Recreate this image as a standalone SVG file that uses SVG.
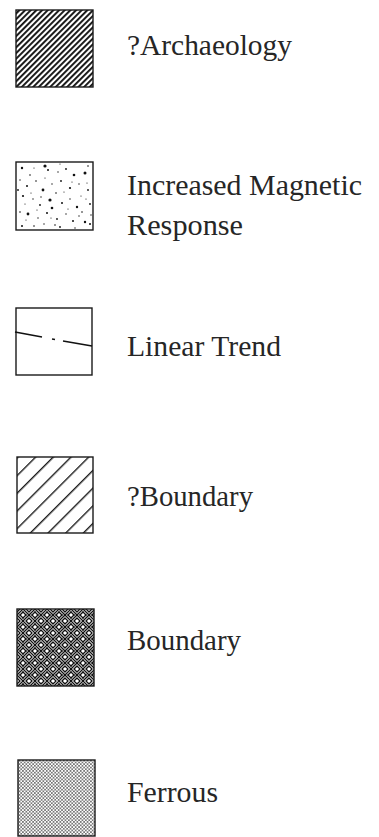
<svg xmlns="http://www.w3.org/2000/svg" width="379" height="837" viewBox="0 0 379 837">
<style>
.box{stroke:#1a1a1a;stroke-width:1.4}
.lbl{font-family:"Liberation Serif","Times New Roman",serif;font-size:29px;fill:#262626}
.dots circle{fill:#111}
</style>
<defs>
<pattern id="denseHatch" width="4" height="4" patternUnits="userSpaceOnUse" patternTransform="rotate(-45)">
<rect width="4" height="4" fill="#fff"/>
<rect width="4" height="1.9" fill="#111"/>
</pattern>
<pattern id="wideHatch" width="12.5" height="12.5" patternUnits="userSpaceOnUse" patternTransform="translate(17 457) rotate(-45)">
<line x1="0" y1="0.7" x2="12.5" y2="0.7" stroke="#1a1a1a" stroke-width="1.4"/>
</pattern>
<pattern id="weave" width="12" height="12" patternUnits="userSpaceOnUse" patternTransform="translate(17 609)">
<rect width="12" height="12" fill="#fff"/>
<g stroke="#111" stroke-width="1.3" stroke-linecap="square">
<line x1="0" y1="6" x2="6" y2="0"/><line x1="0" y1="3" x2="3" y2="0"/><line x1="3" y1="6" x2="6" y2="3"/>
<line x1="6" y1="0" x2="12" y2="6"/><line x1="9" y1="0" x2="12" y2="3"/><line x1="6" y1="3" x2="9" y2="6"/>
<line x1="0" y1="6" x2="6" y2="12"/><line x1="3" y1="6" x2="6" y2="9"/><line x1="0" y1="9" x2="3" y2="12"/>
<line x1="6" y1="12" x2="12" y2="6"/><line x1="6" y1="9" x2="9" y2="6"/><line x1="9" y1="12" x2="12" y2="9"/>
</g>
</pattern>
<pattern id="stipple" width="3.4" height="3.4" patternUnits="userSpaceOnUse">
<rect width="3.4" height="3.4" fill="#fff"/>
<circle cx="0.85" cy="0.85" r="0.75" fill="#333"/>
<circle cx="2.55" cy="2.55" r="0.75" fill="#333"/>
</pattern>
</defs>

<g id="archaeology">
<rect class="box" x="16" y="10" width="77" height="77" fill="url(#denseHatch)"/>
<text class="lbl" x="127" y="55" textLength="165" lengthAdjust="spacingAndGlyphs">?Archaeology</text>
</g>

<g id="increased-magnetic">
<rect class="box" x="16" y="162" width="77" height="68" fill="#fff"/>
<g class="dots">
<circle cx="22" cy="168" r="1.2"/><circle cx="30" cy="175" r="0.8"/><circle cx="45" cy="166" r="1.6"/><circle cx="48" cy="170" r="1"/><circle cx="58" cy="172" r="0.7"/><circle cx="66" cy="169" r="0.9"/><circle cx="74" cy="175" r="1.3"/><circle cx="85" cy="173" r="1.5"/><circle cx="88" cy="166" r="0.8"/><circle cx="20" cy="180" r="0.7"/><circle cx="27" cy="186" r="1"/><circle cx="36" cy="181" r="0.8"/><circle cx="43" cy="190" r="1.4"/><circle cx="52" cy="184" r="0.7"/><circle cx="61" cy="181" r="0.9"/><circle cx="70" cy="188" r="1.1"/><circle cx="79" cy="184" r="0.7"/><circle cx="88" cy="190" r="0.9"/><circle cx="23" cy="196" r="1.1"/><circle cx="33" cy="199" r="0.7"/><circle cx="40" cy="205" r="0.9"/><circle cx="50" cy="200" r="1.6"/><circle cx="52" cy="208" r="1.3"/><circle cx="62" cy="203" r="1"/><circle cx="70" cy="199" r="0.7"/><circle cx="77" cy="207" r="1.2"/><circle cx="82" cy="212" r="0.8"/><circle cx="90" cy="204" r="0.9"/><circle cx="20" cy="212" r="0.8"/><circle cx="28" cy="214" r="1.4"/><circle cx="38" cy="218" r="0.7"/><circle cx="47" cy="213" r="1"/><circle cx="57" cy="219" r="0.9"/><circle cx="66" cy="214" r="0.7"/><circle cx="73" cy="221" r="1"/><circle cx="85" cy="222" r="1.2"/><circle cx="22" cy="226" r="1"/><circle cx="34" cy="226" r="0.8"/><circle cx="44" cy="224" r="0.7"/><circle cx="60" cy="227" r="0.9"/><circle cx="55" cy="225" r="0.8"/><circle cx="75" cy="228" r="0.7"/><circle cx="90" cy="224" r="1"/><circle cx="31" cy="193" r="0.6"/><circle cx="64" cy="192" r="0.6"/><circle cx="81" cy="196" r="0.6"/><circle cx="25" cy="204" r="0.6"/><circle cx="45" cy="178" r="0.6"/><circle cx="68" cy="209" r="0.6"/><circle cx="87" cy="183" r="0.6"/><circle cx="56" cy="193" r="0.8"/><circle cx="37" cy="210" r="0.6"/><circle cx="79" cy="216" r="0.7"/><circle cx="18" cy="190" r="0.9"/><circle cx="91" cy="215" r="0.7"/><circle cx="60" cy="164" r="0.6"/><circle cx="34" cy="168" r="0.6"/><circle cx="72" cy="182" r="0.6"/><circle cx="41" cy="197" r="0.7"/><circle cx="86" cy="199" r="0.6"/><circle cx="26" cy="220" r="0.6"/><circle cx="51" cy="218" r="0.6"/>
</g>
<text class="lbl" x="127" y="195" textLength="235" lengthAdjust="spacingAndGlyphs">Increased Magnetic</text>
<text class="lbl" x="127" y="235" textLength="116" lengthAdjust="spacingAndGlyphs">Response</text>
</g>

<g id="linear-trend">
<rect class="box" x="16" y="308" width="76" height="67" fill="#fff"/>
<g stroke="#111" stroke-width="1.6">
<line x1="15" y1="332" x2="42" y2="337"/>
<line x1="52" y1="339" x2="55" y2="339.5"/>
<line x1="63" y1="341" x2="92" y2="346"/>
</g>
<text class="lbl" x="127" y="356" textLength="154" lengthAdjust="spacingAndGlyphs">Linear Trend</text>
</g>

<g id="possible-boundary">
<rect class="box" x="17" y="457" width="76" height="76" fill="url(#wideHatch)"/>
<text class="lbl" x="127" y="506" textLength="126" lengthAdjust="spacingAndGlyphs">?Boundary</text>
</g>

<g id="boundary">
<rect class="box" x="17" y="609" width="77" height="77" fill="url(#weave)"/>
<text class="lbl" x="127" y="650" textLength="114" lengthAdjust="spacingAndGlyphs">Boundary</text>
</g>

<g id="ferrous">
<rect class="box" x="18" y="760" width="77" height="76" fill="url(#stipple)"/>
<text class="lbl" x="127" y="802" textLength="91" lengthAdjust="spacingAndGlyphs">Ferrous</text>
</g>
</svg>
